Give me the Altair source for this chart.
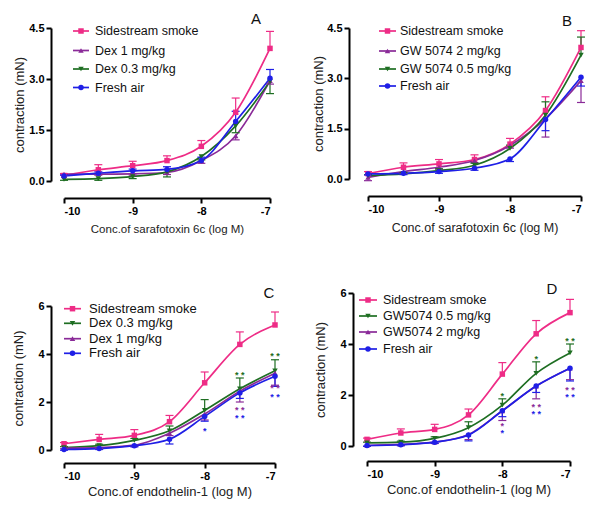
import altair as alt
import pandas as pd

FONT = "Liberation Sans"
X = [-10, -9.5, -9, -8.5, -8, -7.5, -7]

GROUPS = ["smoke", "high", "low", "air"]
COLOR_RANGE = ["#EE2C86", "#8A2A98", "#1E6E22", "#1F1FE6"]
SHAPE_RANGE = ["square", "triangle-up", "triangle-down", "circle"]

# ---------- Panel A (sarafotoxin 6c, Dex) ----------
A_smoke = [0.16, 0.33, 0.45, 0.60, 1.02, 2.02, 3.90]
A_smoke_err = [0.06, 0.15, 0.13, 0.14, 0.17, 0.42, 0.50]
A_dex1 = [0.20, 0.20, 0.21, 0.25, 0.60, 1.33, 2.95]
A_dex1_err = [0.03, 0.03, 0.04, 0.06, 0.08, 0.12, 0.10]
A_dex03 = [0.05, 0.07, 0.13, 0.27, 0.72, 1.62, 2.93]
A_dex03_err = [0.03, 0.05, 0.06, 0.15, 0.10, 0.20, 0.36]
A_air = [0.15, 0.23, 0.30, 0.34, 0.60, 1.75, 3.02]
A_air_err = [0.03, 0.04, 0.05, 0.08, 0.10, 0.30, 0.26]

# ---------- Panel B (sarafotoxin 6c, GW 5074) ----------
B_smoke = [0.16, 0.35, 0.45, 0.58, 1.04, 2.04, 3.92]
B_smoke_err = [0.06, 0.13, 0.13, 0.14, 0.17, 0.41, 0.50]
B_gw2 = [0.05, 0.22, 0.35, 0.55, 1.00, 1.80, 2.93]
B_gw2_err = [0.10, 0.05, 0.05, 0.06, 0.08, 0.55, 0.65]
B_gw05 = [0.10, 0.15, 0.25, 0.41, 0.91, 1.90, 3.69]
B_gw05_err = [0.03, 0.04, 0.05, 0.06, 0.10, 0.40, 0.54]
B_air = [0.15, 0.17, 0.22, 0.32, 0.60, 1.77, 3.03]
B_air_err = [0.03, 0.04, 0.05, 0.06, 0.08, 0.33, 0.26]

# ---------- Panel C (endothelin-1, Dex) ----------
C_smoke = [0.26, 0.44, 0.61, 1.18, 2.80, 4.40, 5.21]
C_smoke_err = [0.05, 0.21, 0.24, 0.26, 0.45, 0.52, 0.54]
C_dex03 = [0.10, 0.18, 0.40, 0.80, 1.65, 2.55, 3.30]
C_dex03_err = [0.04, 0.06, 0.08, 0.20, 0.45, 0.45, 0.46]
C_dex1 = [0.08, 0.10, 0.20, 0.70, 1.50, 2.45, 3.20]
C_dex1_err = [0.03, 0.04, 0.05, 0.10, 0.25, 0.45, 0.50]
C_air = [0.02, 0.06, 0.18, 0.45, 1.40, 2.38, 3.07]
C_air_err = [0.03, 0.04, 0.05, 0.20, 0.20, 0.23, 0.42]

# ---------- Panel D (endothelin-1, GW5074) ----------
D_smoke = [0.26, 0.51, 0.65, 1.22, 2.82, 4.40, 5.23]
D_smoke_err = [0.05, 0.16, 0.20, 0.23, 0.45, 0.52, 0.52]
D_gw05 = [0.12, 0.15, 0.30, 0.72, 1.60, 2.85, 3.65]
D_gw05_err = [0.03, 0.04, 0.06, 0.23, 0.25, 0.45, 0.35]
D_gw2 = [0.02, 0.06, 0.15, 0.45, 1.38, 2.35, 3.05]
D_gw2_err = [0.03, 0.04, 0.05, 0.20, 0.38, 0.50, 0.45]
D_air = [0.02, 0.05, 0.15, 0.43, 1.38, 2.35, 3.05]
D_air_err = [0.03, 0.04, 0.05, 0.23, 0.23, 0.25, 0.50]

# significance marks: x, y, text, group
C_star_x = [-8, -7.5, -7.5, -7.5, -7, -7, -7]
C_star_y = [0.93, 3.25, 1.78, 1.46, 4.03, 2.72, 2.35]
C_star_t = ["*", "* *", "* *", "* *", "* *", "* *", "* *"]
C_star_g = ["air", "low", "high", "air", "low", "high", "air"]

D_star_x = [-8, -8, -8, -7.5, -7.5, -7.5, -7, -7, -7]
D_star_y = [2.07, 0.89, 0.63, 3.54, 1.66, 1.38, 4.23, 2.32, 2.03]
D_star_t = ["*", "*", "*", "*", "* *", "* *", "* *", "* *", "* *"]
D_star_g = ["low", "high", "air", "low", "high", "air", "low", "high", "air"]


def make_df(series):
    rows = []
    for grp, name, ys, errs, d in series:
        for x, y, e in zip(X, ys, errs):
            lo = y - e if d == "down" else y
            hi = y + e if d == "up" else y
            cap = hi if d == "up" else lo
            rows.append(dict(x=x, y=y, lo=lo, hi=hi, cap=cap, grp=grp))
    return pd.DataFrame(rows)


def panel(series, cfg, stars=None):
    df = make_df(series)
    xs = alt.Scale(domain=[-10, -7], nice=False, zero=False)
    ykw = dict(domain=cfg["ydom"], nice=False, zero=False)
    if cfg.get("yrange"):
        ykw["range"] = cfg["yrange"]
    ys = alt.Scale(**ykw)
    color = alt.Color("grp:N", scale=alt.Scale(domain=GROUPS, range=COLOR_RANGE), legend=None)
    shape = alt.Shape("grp:N", scale=alt.Scale(domain=GROUPS, range=SHAPE_RANGE), legend=None)
    xaxis = alt.Axis(values=[-10, -9, -8, -7], offset=cfg["xoff"], title=cfg["xtitle"],
                     titleFontSize=cfg["xtfs"], titlePadding=cfg["xtp"],
                     labelExpr="datum.value < 0 ? '-' + abs(datum.value) : '' + datum.value")
    yaxis = alt.Axis(values=cfg["yticks"], format=cfg["yfmt"], offset=cfg["yoff"],
                     title="contraction (mN)", titlePadding=cfg["ytp"])
    X_ = alt.X("x:Q", scale=xs, axis=xaxis)
    base = alt.Chart(df)
    lines = base.mark_line(interpolate="monotone", strokeWidth=1.7).encode(
        x=X_, y=alt.Y("y:Q", scale=ys, axis=yaxis), color=color)
    err = base.mark_rule(strokeWidth=1.2).encode(
        x=X_, y=alt.Y("lo:Q", scale=ys), y2="hi:Q", color=color)
    caps = base.mark_rule(strokeWidth=1.2, xOffset=-4, x2Offset=4).encode(
        x=X_, x2="x:Q", y=alt.Y("cap:Q", scale=ys), color=color)
    pts = base.mark_point(filled=True, size=30, opacity=1, strokeWidth=0).encode(
        x=X_, y=alt.Y("y:Q", scale=ys), color=color, shape=shape)
    layers = [lines, err, caps, pts]

    if stars is not None:
        sdf = pd.DataFrame({"x": stars[0], "y": stars[1], "t": stars[2], "grp": stars[3]})
        layers.append(alt.Chart(sdf).mark_text(font=FONT, fontWeight="bold", fontSize=9, dy=3).encode(
            x=X_, y=alt.Y("y:Q", scale=ys), text="t:N", color=color))

    # in-plot legend
    lrows = []
    for i, (grp, name, _, _, _) in enumerate(series):
        lrows.append(dict(grp=grp, label=name, ly=cfg["lrows"][i],
                          lx1=cfg["lline"][0], lx2=cfg["lline"][1],
                          lxm=(cfg["lline"][0] + cfg["lline"][1]) / 2, ltx=cfg["ltext"]))
    ldf = pd.DataFrame(lrows)
    lb = alt.Chart(ldf)
    ly = alt.Y("ly:Q", scale=None, axis=None)
    layers.append(lb.mark_rule(strokeWidth=1.7).encode(
        x=alt.X("lx1:Q", scale=None, axis=None), x2="lx2:Q", y=ly, color=color))
    layers.append(lb.mark_point(filled=True, size=30, opacity=1, strokeWidth=0).encode(
        x=alt.X("lxm:Q", scale=None, axis=None), y=ly, color=color, shape=shape))
    layers.append(lb.mark_text(font=FONT, fontSize=cfg["lfs"], align="left", baseline="middle",
                               color="#111").encode(
        x=alt.X("ltx:Q", scale=None, axis=None), y=ly, text="label:N"))

    letter = alt.Chart(pd.DataFrame({"t": [cfg["letter"]]})).mark_text(
        font=FONT, fontSize=15, align="center", baseline="middle", color="#111").encode(
        x=alt.value(cfg["lpos"][0]), y=alt.value(cfg["lpos"][1]), text="t:N")
    layers.append(letter)

    return alt.layer(*layers).properties(width=cfg["w"], height=cfg["h"])


chartA = panel(
    [("smoke", "Sidestream smoke", A_smoke, A_smoke_err, "up"),
     ("high", "Dex 1 mg/kg", A_dex1, A_dex1_err, "down"),
     ("low", "Dex 0.3 mg/kg", A_dex03, A_dex03_err, "down"),
     ("air", "Fresh air", A_air, A_air_err, "up")],
    dict(ydom=[0, 4.5], yticks=[0, 1.5, 3, 4.5], yfmt=".1f", xoff=17, yoff=13,
         xtitle="Conc.of sarafotoxin 6c (log M)", xtfs=11.5, xtp=7, ytp=2,
         w=206, h=153, lrows=[3, 22.5, 41, 59.5], lline=[9, 25], ltext=31, lfs=12.5,
         letter="A", lpos=[192, -9]))

chartB = panel(
    [("smoke", "Sidestream smoke", B_smoke, B_smoke_err, "up"),
     ("high", "GW 5074 2 mg/kg", B_gw2, B_gw2_err, "down"),
     ("low", "GW 5074 0.5 mg/kg", B_gw05, B_gw05_err, "up"),
     ("air", "Fresh air", B_air, B_air_err, "down")],
    dict(ydom=[0, 4.5], yticks=[0, 1.5, 3, 4.5], yfmt=".1f", xoff=17, yoff=19,
         xtitle="Conc.of sarafotoxin 6c (log M)", xtfs=12.5, xtp=7, ytp=1,
         w=213, h=151, lrows=[3, 23, 41, 58], lline=[11, 28], ltext=32, lfs=12.5,
         letter="B", lpos=[199, -7]))

chartC = panel(
    [("smoke", "Sidestream smoke", C_smoke, C_smoke_err, "up"),
     ("low", "Dex 0.3 mg/kg", C_dex03, C_dex03_err, "up"),
     ("high", "Dex  1 mg/kg", C_dex1, C_dex1_err, "down"),
     ("air", "Fresh air", C_air, C_air_err, "down")],
    dict(ydom=[0, 6], yticks=[0, 2, 4, 6], yfmt="d", xoff=13, yoff=13, yrange=[157, 13],
         xtitle="Conc.of endothelin-1 (log M)", xtfs=13, xtp=4, ytp=12,
         w=211, h=157, lrows=[15.7, 30.3, 45.7, 60.3], lline=[0, 17], ltext=25, lfs=13,
         letter="C", lpos=[205, 0]),
    stars=(C_star_x, C_star_y, C_star_t, C_star_g))

chartD = panel(
    [("smoke", "Sidestream smoke", D_smoke, D_smoke_err, "up"),
     ("low", "GW5074 0.5 mg/kg", D_gw05, D_gw05_err, "up"),
     ("high", "GW5074 2 mg/kg", D_gw2, D_gw2_err, "down"),
     ("air", "Fresh air", D_air, D_air_err, "down")],
    dict(ydom=[0, 6], yticks=[0, 2, 4, 6], yfmt="d", xoff=15, yoff=14,
         xtitle="Conc.of endothelin-1 (log M)", xtfs=13, xtp=4, ytp=12,
         w=203, h=153, lrows=[7, 23, 39, 56], lline=[-8, 10], ltext=16, lfs=12.5,
         letter="D", lpos=[185, -4]),
    stars=(D_star_x, D_star_y, D_star_t, D_star_g))

chart = alt.vconcat(
    alt.hconcat(chartA, chartB, spacing=37),
    alt.hconcat(chartC, chartD, spacing=34),
    spacing=47,
).properties(
    padding={"left": 4, "top": 4, "right": 4, "bottom": 2}
).configure_view(stroke=None).configure_axis(
    grid=False, domainColor="#000", domainWidth=2, tickColor="#000", tickWidth=2, tickSize=5,
    labelFont=FONT, labelFontWeight="bold", labelFontSize=11, labelColor="#000", labelPadding=2,
    titleFont=FONT, titleFontWeight="normal", titleFontSize=13, titleColor="#222",
)

chart.save("out.html", embed_options={"renderer": "svg", "actions": False})
